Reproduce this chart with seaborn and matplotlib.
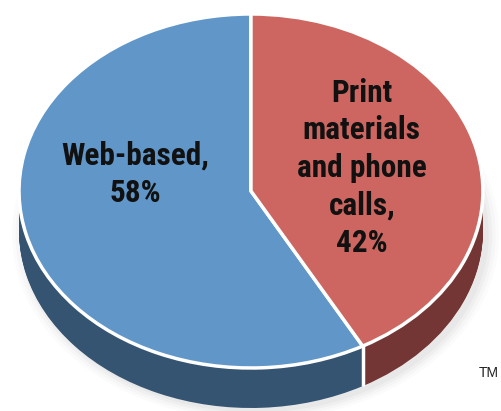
import matplotlib
matplotlib.use("Agg")
import matplotlib.pyplot as plt
import seaborn as sns
import numpy as np

categories = ["Web-based", "Print materials and phone calls"]
shares = [58, 42]
label_texts = ["Web-based,\n58%", "Print\nmaterials\nand phone\ncalls,\n42%"]
top_colors = ["#6096C8", "#CD6660"]
side_colors = ["#355472", "#743634"]

sns.set_theme(style="white")
plt.rcParams['font.family'] = ['Roboto Condensed', 'DejaVu Sans']

fig = plt.figure(figsize=(5.01, 4.11), dpi=100)
ax = fig.add_axes([0, 0, 1, 1])

depth = 0.226

# soft shadow
for r, a in [(1.05, 0.03), (1.035, 0.04), (1.02, 0.05), (1.005, 0.06)]:
    ax.pie(shares, colors=["#808080", "#808080"], startangle=90, radius=r,
           center=(0.02, -depth - 0.02), wedgeprops=dict(linewidth=0, alpha=a))

# side (depth) of the pie
for k in np.linspace(depth, 0, 45):
    ax.pie(shares, colors=side_colors, startangle=90, center=(0, -k),
           wedgeprops=dict(linewidth=0))

# white divider on the side at the front boundary
theta = np.deg2rad(90 + 360 * shares[0] / sum(shares))
bx, by = np.cos(theta), np.sin(theta)
ax.plot([bx, bx], [by, by - depth], color="white", lw=2.5, solid_capstyle="butt")

# top face
ax.pie(shares, colors=top_colors, startangle=90,
       wedgeprops=dict(edgecolor="white", linewidth=2.5))

ax.set_aspect("auto")
ax.set_xlim(-1.082, 1.078)
ax.set_ylim(-1.243, 1.079)
ax.axis("off")

ax.text(-0.5, -0.0605, label_texts[0], ha="center", va="baseline", multialignment="center",
        fontsize=22.5, fontweight="bold", color="#111111", linespacing=1.31)
ax.text(0.478, -0.343, label_texts[1], ha="center", va="baseline", multialignment="center",
        fontsize=22.5, fontweight="bold", color="#111111", linespacing=1.31)
ax.text(1.026, -1.028, "TM", ha="center", va="center", fontsize=10,
        color="#222222", family=["Liberation Sans", "DejaVu Sans"])

fig.savefig("out.png", dpi=100)
